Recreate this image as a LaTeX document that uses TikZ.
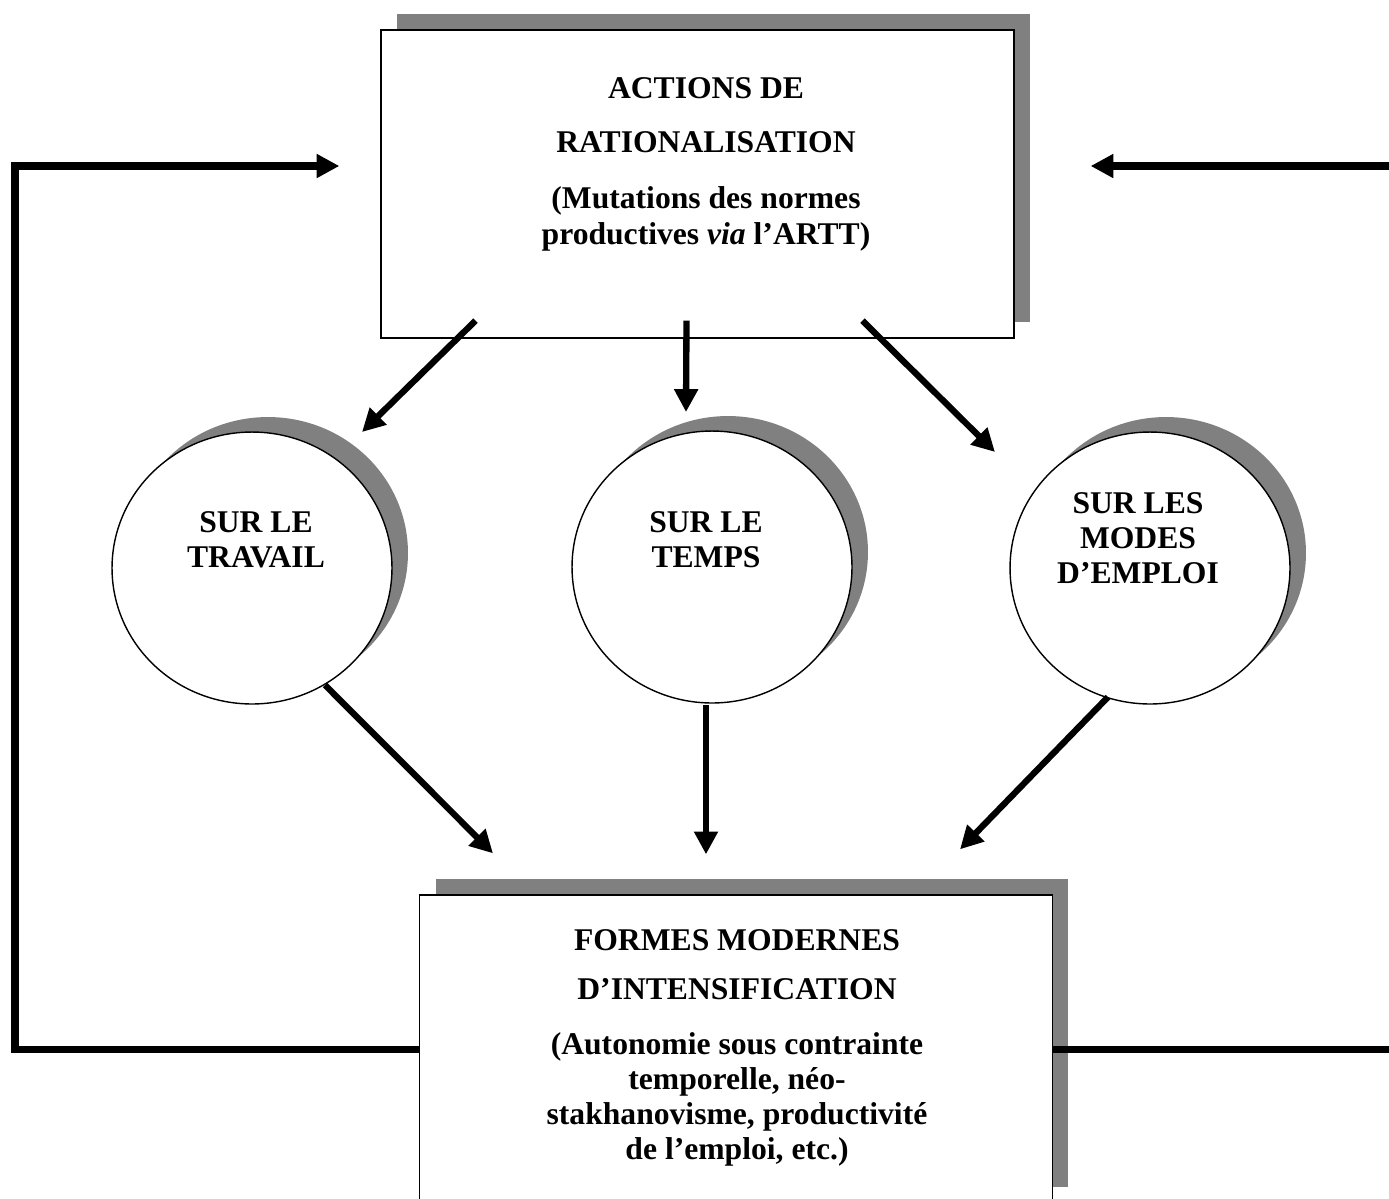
\documentclass[tikz,border=0pt]{standalone}
\usepackage{fontspec}
\setmainfont{Liberation Serif}
\usetikzlibrary{arrows.meta,shapes.geometric,shadows}

\begin{document}
\begin{tikzpicture}[x=0.02cm, y=-0.02cm,
    box/.style={draw, line width=0.8pt, fill=white, minimum width=12.66cm, minimum height=6.16cm,
      drop shadow={shadow xshift=0.32cm, shadow yshift=0.32cm, fill=gray, opacity=1}},
    bulle/.style={ellipse, draw, line width=0.8pt, fill=white, minimum width=5.6cm, minimum height=5.44cm,
      drop shadow={shadow xshift=0.32cm, shadow yshift=0.3cm, fill=gray, opacity=1}},
    txt/.style={align=center, font=\bfseries\fontsize{18}{20}\selectfont},
    flow/.style={-{Triangle[length=13pt, width=13pt]}, line width=3.6pt},
    retour/.style={-{Triangle[length=13pt, width=13pt]}, line width=4pt}]
       % \draw[help lines, step=100] (0, 0) grid (1389, 1198);
       \useasboundingbox (0, 0) rectangle (1389, 1198);
       \node [box] (actions) at (697.5, 184) {};
       \node [box] (formes) at (736, 1049) {};
       \node [bulle] (travail) at (252, 568) {};
       \node [bulle] (temps) at (712, 567) {};
       \node [bulle] (emploi) at (1150, 568) {};
       \node [txt] (actionsT) at (706, 164) {ACTIONS DE\\[11pt] RATIONALISATION\\[12pt]
         (Mutations des normes\\ productives \textit{via} l’ARTT)};
       \node [txt] (formesT) at (737, 1048) {FORMES MODERNES\\[8pt] D’INTENSIFICATION\\[11pt]
         (Autonomie sous contrainte\\ temporelle, néo-\\ stakhanovisme, productivité\\ de l’emploi, etc.)};
       \node [txt] (travailT) at (256, 540) {SUR LE\\ TRAVAIL};
       \node [txt] (tempsT) at (706, 540) {SUR LE\\ TEMPS};
       \node [txt] (emploiT) at (1138, 538) {SUR LES\\ MODES\\ D’EMPLOI};
       \draw [flow] ([shift={(-222, -18)}]actions.south) -- ([shift={(110, -136)}]travail.center);
       \draw [flow] ([shift={(-11, -18)}]actions.south) -- ([shift={(-26, -155)}]temps.center);
       \draw [flow] ([shift={(165, -18)}]actions.south) -- ([shift={(-155, -116)}]emploi.center);
       \draw [flow] ([shift={(73, 117)}]travail.center) -- ([shift={(-243, -41)}]formes.north);
       \draw [flow] ([shift={(-6, 138)}]temps.center) -- ([shift={(-30, -40)}]formes.north);
       \draw [flow] ([shift={(-42, 129)}]emploi.center) -- ([shift={(224, -45)}]formes.north);
       \draw [retour] (formes.west) -| (15, 166) -- ([shift={(-41, -18)}]actions.west);
       \draw [retour] (formes.east) -| (1394, 166) -- ([shift={(76, -18)}]actions.east);
\end{tikzpicture}
\end{document}
